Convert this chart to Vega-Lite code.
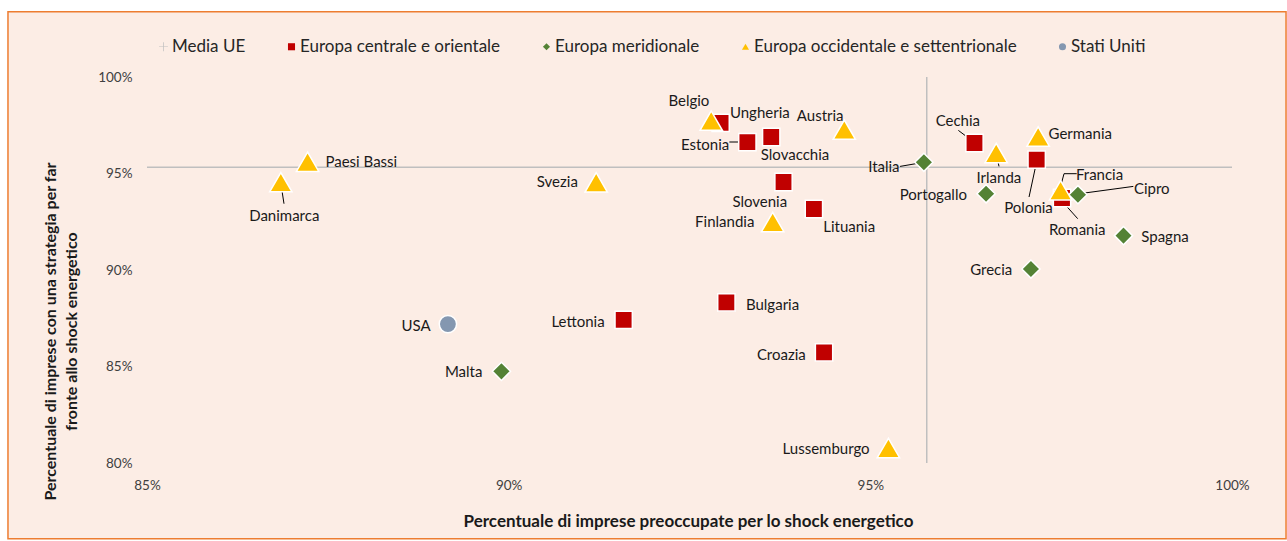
{
  "$schema": "https://vega.github.io/schema/vega-lite/v6.json",
  "width": 1085,
  "height": 386,
  "autosize": "none",
  "padding": {"left": 147, "top": 77, "right": 55, "bottom": 78},
  "background": "white",
  "config": {
    "view": {"stroke": null},
    "font": "Lato",
    "axisX": {
      "grid": false, "ticks": false, "domain": false, "labelFlush": false,
      "labelFont": "Lato", "labelFontSize": 13.5, "labelColor": "#404040", "labelPadding": 15,
      "titleFont": "Lato", "titleFontSize": 17, "titleFontWeight": "bold", "titleColor": "#1a1a1a",
      "titleX": 541, "titleY": 58, "titleAlign": "center", "titleBaseline": "middle"
    },
    "axisY": {
      "grid": false, "ticks": false, "domain": false, "labelFlush": false,
      "labelFont": "Lato", "labelFontSize": 13.5, "labelColor": "#404040", "labelPadding": 15,
      "titleFont": "Lato", "titleFontSize": 16, "titleFontWeight": "bold", "titleColor": "#1a1a1a",
      "titleX": -97, "titleY": 254, "titleAngle": -90, "titleAlign": "center", "titleBaseline": "middle",
      "titleLineHeight": 21
    }
  },
  "datasets": {
    "frame": [{"x1": 0.83078, "x2": 1.00747, "y1": 0.76078, "y2": 1.03383}],
    "media": [{"mx": 0.9578, "my": 0.9532}],
    "pts": [
      {"name": "Ungheria", "group": "Europa centrale e orientale", "x": 0.9293, "y": 0.9762, "lx": 0.93472, "ly": 0.98135},
      {"name": "Estonia", "group": "Europa centrale e orientale", "x": 0.9330, "y": 0.9663, "lx": 0.92715, "ly": 0.96492},
      {"name": "Slovacchia", "group": "Europa centrale e orientale", "x": 0.9363, "y": 0.9689, "lx": 0.93959, "ly": 0.95974},
      {"name": "Slovenia", "group": "Europa centrale e orientale", "x": 0.9380, "y": 0.9456, "lx": 0.93471, "ly": 0.93523},
      {"name": "Lituania", "group": "Europa centrale e orientale", "x": 0.9422, "y": 0.9316, "lx": 0.94708, "ly": 0.92207},
      {"name": "Cechia", "group": "Europa centrale e orientale", "x": 0.9644, "y": 0.9658, "lx": 0.96210, "ly": 0.97736},
      {"name": "Polonia", "group": "Europa centrale e orientale", "x": 0.9730, "y": 0.9572, "lx": 0.97187, "ly": 0.93212},
      {"name": "Romania", "group": "Europa centrale e orientale", "x": 0.9765, "y": 0.9373, "lx": 0.97860, "ly": 0.92088},
      {"name": "Lettonia", "group": "Europa centrale e orientale", "x": 0.9159, "y": 0.8742, "lx": 0.90959, "ly": 0.87321},
      {"name": "Bulgaria", "group": "Europa centrale e orientale", "x": 0.9301, "y": 0.8832, "lx": 0.93648, "ly": 0.88202},
      {"name": "Croazia", "group": "Europa centrale e orientale", "x": 0.9436, "y": 0.8573, "lx": 0.93770, "ly": 0.85611},
      {"name": "Italia", "group": "Europa meridionale", "x": 0.9574, "y": 0.9558, "lx": 0.95187, "ly": 0.95337},
      {"name": "Portogallo", "group": "Europa meridionale", "x": 0.9660, "y": 0.9395, "lx": 0.95871, "ly": 0.93902},
      {"name": "Cipro", "group": "Europa meridionale", "x": 0.9787, "y": 0.9390, "lx": 0.98891, "ly": 0.94197},
      {"name": "Spagna", "group": "Europa meridionale", "x": 0.9850, "y": 0.9178, "lx": 0.99074, "ly": 0.91710},
      {"name": "Grecia", "group": "Europa meridionale", "x": 0.9722, "y": 0.9005, "lx": 0.96671, "ly": 0.89979},
      {"name": "Malta", "group": "Europa meridionale", "x": 0.8990, "y": 0.8475, "lx": 0.89378, "ly": 0.84694},
      {"name": "Paesi Bassi", "group": "Europa occidentale e settentrionale", "x": 0.8722, "y": 0.9561, "lx": 0.87963, "ly": 0.95596},
      {"name": "Danimarca", "group": "Europa occidentale e settentrionale", "x": 0.8685, "y": 0.9455, "lx": 0.86898, "ly": 0.92813},
      {"name": "Svezia", "group": "Europa occidentale e settentrionale", "x": 0.9121, "y": 0.9454, "lx": 0.90673, "ly": 0.94539},
      {"name": "Belgio", "group": "Europa occidentale e settentrionale", "x": 0.9280, "y": 0.9774, "lx": 0.92491, "ly": 0.98736},
      {"name": "Austria", "group": "Europa occidentale e settentrionale", "x": 0.9464, "y": 0.9727, "lx": 0.94307, "ly": 0.97995},
      {"name": "Finlandia", "group": "Europa occidentale e settentrionale", "x": 0.9365, "y": 0.9249, "lx": 0.92987, "ly": 0.92487},
      {"name": "Irlanda", "group": "Europa occidentale e settentrionale", "x": 0.9674, "y": 0.9606, "lx": 0.96777, "ly": 0.94767},
      {"name": "Germania", "group": "Europa occidentale e settentrionale", "x": 0.9732, "y": 0.9692, "lx": 0.97902, "ly": 0.97062},
      {"name": "Francia", "group": "Europa occidentale e settentrionale", "x": 0.9763, "y": 0.9413, "lx": 0.98169, "ly": 0.94938},
      {"name": "Lussemburgo", "group": "Europa occidentale e settentrionale", "x": 0.9525, "y": 0.8078, "lx": 0.94388, "ly": 0.80725},
      {"name": "USA", "group": "Stati Uniti", "x": 0.8916, "y": 0.8720, "lx": 0.88719, "ly": 0.87078}
    ],
    "lead": [
      {"name": "Danimarca", "x": 0.86848, "y": 0.94539, "x2": 0.86894, "y2": 0.93435},
      {"name": "Estonia", "x": 0.93051, "y": 0.96632, "x2": 0.93300, "y2": 0.96632},
      {"name": "Italia", "x": 0.95411, "y": 0.95368, "x2": 0.95733, "y2": 0.95575},
      {"name": "Cechia", "x": 0.96217, "y": 0.97233, "x2": 0.96448, "y2": 0.96580},
      {"name": "Irlanda", "x": 0.96738, "y": 0.96062, "x2": 0.96779, "y2": 0.95368},
      {"name": "Polonia", "x": 0.97300, "y": 0.95627, "x2": 0.97194, "y2": 0.93782},
      {"name": "Francia", "x": 0.97609, "y": 0.94041, "x2": 0.97678, "y2": 0.94990},
      {"name": "Francia", "x": 0.97678, "y": 0.94990, "x2": 0.97853, "y2": 0.94990},
      {"name": "Cipro", "x": 0.97862, "y": 0.93938, "x2": 0.98636, "y2": 0.94332},
      {"name": "Romania", "x": 0.97632, "y": 0.93642, "x2": 0.97867, "y2": 0.92658}
    ]
  },
  "layer": [
    {
      "data": {"name": "frame"},
      "mark": {"type": "rect", "fill": "#FCEDE5", "stroke": "#ED7D31", "strokeWidth": 1.5},
      "encoding": {
        "x": {"field": "x1", "type": "quantitative", "scale": {"domain": [0.85, 1.0], "nice": false, "zero": false},
              "title": "Percentuale di imprese preoccupate per lo shock energetico",
              "axis": {"format": ".0%", "values": [0.85, 0.9, 0.95, 1.0], "zindex": 1}},
        "x2": {"field": "x2"},
        "y": {"field": "y1", "type": "quantitative", "scale": {"domain": [0.8, 1.0], "nice": false, "zero": false},
              "title": ["Percentuale di imprese con una strategia per far", "fronte allo shock energetico"],
              "axis": {"format": ".0%", "values": [0.8, 0.85, 0.9, 0.95, 1.0], "zindex": 1}},
        "y2": {"field": "y2"}
      }
    },
    {
      "data": {"name": "media"},
      "mark": {"type": "rule", "color": "#BFBFBF", "strokeWidth": 1.5},
      "encoding": {
        "y": {"field": "my", "type": "quantitative", "scale": {"domain": [0.8, 1.0], "nice": false, "zero": false},
              "title": ["Percentuale di imprese con una strategia per far", "fronte allo shock energetico"],
              "axis": {"format": ".0%", "values": [0.8, 0.85, 0.9, 0.95, 1.0], "zindex": 1}}
      }
    },
    {
      "data": {"name": "media"},
      "mark": {"type": "rule", "color": "#BFBFBF", "strokeWidth": 1.5},
      "encoding": {
        "x": {"field": "mx", "type": "quantitative", "scale": {"domain": [0.85, 1.0], "nice": false, "zero": false},
              "title": "Percentuale di imprese preoccupate per lo shock energetico",
              "axis": {"format": ".0%", "values": [0.85, 0.9, 0.95, 1.0], "zindex": 1}}
      }
    },
    {
      "data": {"name": "lead"},
      "mark": {"type": "rule", "color": "#000000", "strokeWidth": 1},
      "encoding": {
        "x": {"field": "x", "type": "quantitative", "scale": {"domain": [0.85, 1.0], "nice": false, "zero": false},
              "title": "Percentuale di imprese preoccupate per lo shock energetico",
              "axis": {"format": ".0%", "values": [0.85, 0.9, 0.95, 1.0], "zindex": 1}},
        "y": {"field": "y", "type": "quantitative", "scale": {"domain": [0.8, 1.0], "nice": false, "zero": false},
              "title": ["Percentuale di imprese con una strategia per far", "fronte allo shock energetico"],
              "axis": {"format": ".0%", "values": [0.8, 0.85, 0.9, 0.95, 1.0], "zindex": 1}},
        "x2": {"field": "x2"},
        "y2": {"field": "y2"}
      }
    },
    {
      "data": {"name": "pts"},
      "mark": {"type": "point", "filled": true, "opacity": 1, "stroke": "white", "strokeWidth": 1.5},
      "encoding": {
        "x": {"field": "x", "type": "quantitative", "scale": {"domain": [0.85, 1.0], "nice": false, "zero": false},
              "title": "Percentuale di imprese preoccupate per lo shock energetico",
              "axis": {"format": ".0%", "values": [0.85, 0.9, 0.95, 1.0], "zindex": 1}},
        "y": {"field": "y", "type": "quantitative", "scale": {"domain": [0.8, 1.0], "nice": false, "zero": false},
              "title": ["Percentuale di imprese con una strategia per far", "fronte allo shock energetico"],
              "axis": {"format": ".0%", "values": [0.8, 0.85, 0.9, 0.95, 1.0], "zindex": 1}},
        "color": {
          "field": "group", "type": "nominal",
          "scale": {
            "domain": ["Media UE", "Europa centrale e orientale", "Europa meridionale", "Europa occidentale e settentrionale", "Stati Uniti"],
            "range": ["#BFBFBF", "#C00000", "#548235", "#FFC000", "#8497B0"]
          },
          "legend": {
            "orient": "none", "legendX": 8, "legendY": -39, "direction": "horizontal", "title": null,
            "labelFont": "Lato", "labelFontSize": 17, "labelColor": "#262626", "labelLimit": 500, "symbolSize": 50,
            "labelOffset": 0, "columnPadding": 37, "symbolStrokeWidth": 0, "zindex": 1
          }
        },
        "shape": {
          "field": "group", "type": "nominal",
          "scale": {
            "domain": ["Media UE", "Europa centrale e orientale", "Europa meridionale", "Europa occidentale e settentrionale", "Stati Uniti"],
            "range": ["M-1.25,-0.1L-0.1,-0.1L-0.1,-1.25L0.1,-1.25L0.1,-0.1L1.25,-0.1L1.25,0.1L0.1,0.1L0.1,1.25L-0.1,1.25L-0.1,0.1L-1.25,0.1Z", "square", "diamond", "triangle-up", "circle"]
          },
          "legend": {
            "orient": "none", "legendX": 8, "legendY": -39, "direction": "horizontal", "title": null,
            "labelFont": "Lato", "labelFontSize": 17, "labelColor": "#262626", "labelLimit": 500, "symbolSize": 50,
            "labelOffset": 0, "columnPadding": 37, "symbolStrokeWidth": 0, "zindex": 1
          }
        },
        "size": {
          "condition": [
            {"test": "datum.group === 'Europa occidentale e settentrionale'", "value": 500},
            {"test": "datum.group === 'Europa meridionale'", "value": 330}
          ],
          "value": 300
        }
      }
    },
    {
      "data": {"name": "pts"},
      "mark": {"type": "text", "font": "Lato", "fontSize": 15, "color": "#1a1a1a", "align": "center", "baseline": "middle"},
      "encoding": {
        "x": {"field": "lx", "type": "quantitative", "scale": {"domain": [0.85, 1.0], "nice": false, "zero": false},
              "title": "Percentuale di imprese preoccupate per lo shock energetico",
              "axis": {"format": ".0%", "values": [0.85, 0.9, 0.95, 1.0], "zindex": 1}},
        "y": {"field": "ly", "type": "quantitative", "scale": {"domain": [0.8, 1.0], "nice": false, "zero": false},
              "title": ["Percentuale di imprese con una strategia per far", "fronte allo shock energetico"],
              "axis": {"format": ".0%", "values": [0.8, 0.85, 0.9, 0.95, 1.0], "zindex": 1}},
        "text": {"field": "name"}
      }
    }
  ]
}
